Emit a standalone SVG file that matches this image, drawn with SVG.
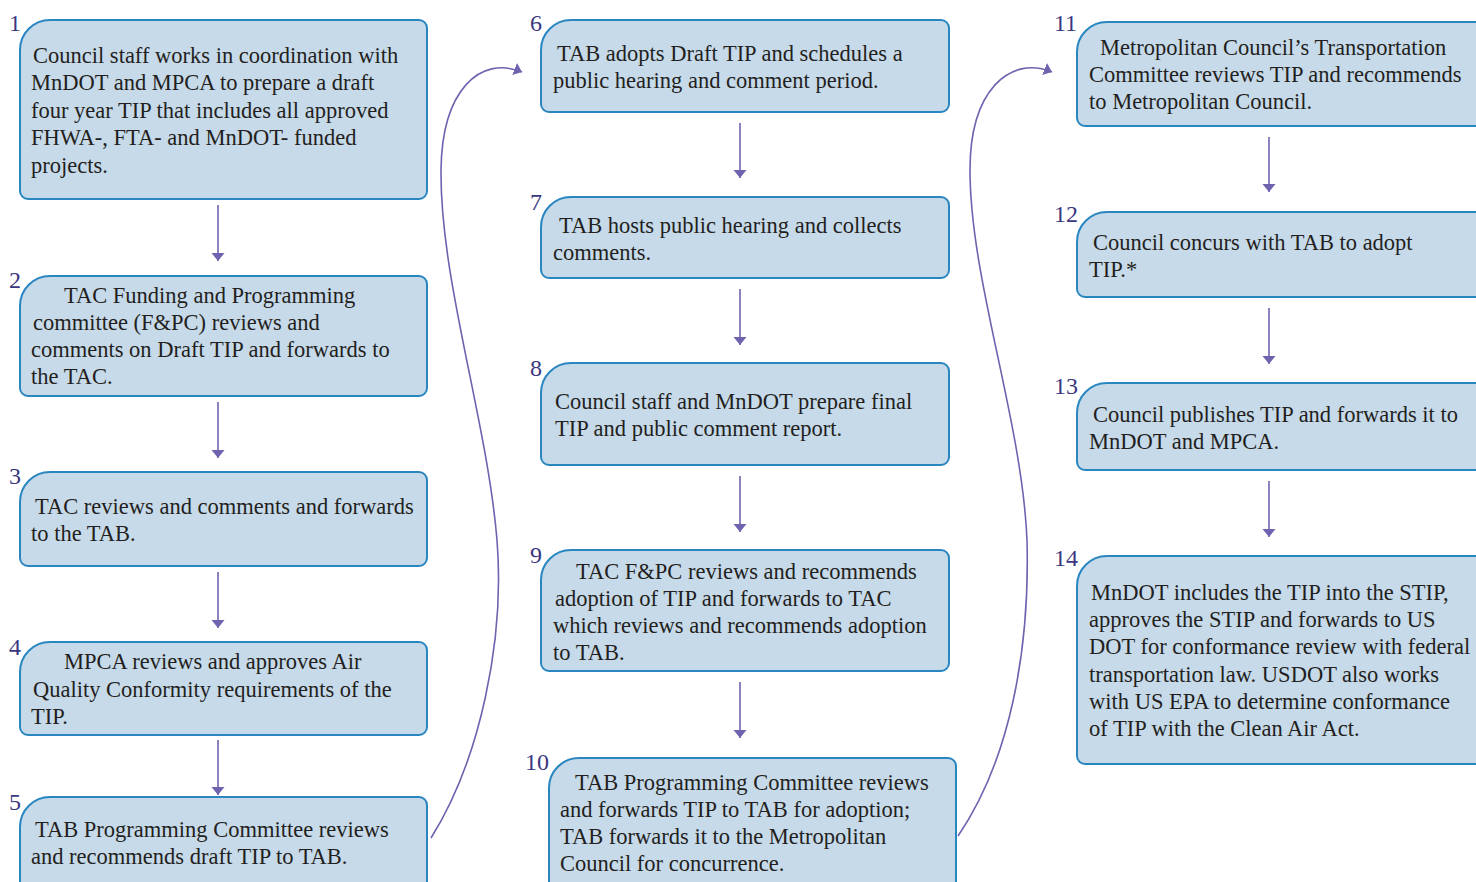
<svg xmlns="http://www.w3.org/2000/svg" width="1476" height="882" viewBox="0 0 1476 882">
<defs>
<style>
.box{fill:#c7daea;stroke:#2a86c0;stroke-width:2}
.t{font-family:"Liberation Serif",serif;font-size:22.5px;fill:#231f20}
.n{font-family:"Liberation Serif",serif;font-size:24px;fill:#3a3780}
.c{fill:none;stroke:#6f63b0;stroke-width:1.6}
</style>
<marker id="ah" markerUnits="userSpaceOnUse" markerWidth="10" markerHeight="14" refX="8" refY="6.5" orient="auto">
<path d="M0,0 L8,6.5 L0,13 Z" fill="#6f63b0"/>
</marker>
</defs>
<rect width="1476" height="882" fill="#ffffff"/>
<g id="connectors">
<line class="c" x1="218" y1="205" x2="218" y2="261" marker-end="url(#ah)"/>
<line class="c" x1="218" y1="402" x2="218" y2="458" marker-end="url(#ah)"/>
<line class="c" x1="218" y1="572" x2="218" y2="628" marker-end="url(#ah)"/>
<line class="c" x1="218" y1="740" x2="218" y2="795" marker-end="url(#ah)"/>
<line class="c" x1="740" y1="123" x2="740" y2="178" marker-end="url(#ah)"/>
<line class="c" x1="740" y1="289" x2="740" y2="345" marker-end="url(#ah)"/>
<line class="c" x1="740" y1="476" x2="740" y2="532" marker-end="url(#ah)"/>
<line class="c" x1="740" y1="682" x2="740" y2="738" marker-end="url(#ah)"/>
<line class="c" x1="1269" y1="137" x2="1269" y2="192" marker-end="url(#ah)"/>
<line class="c" x1="1269" y1="308" x2="1269" y2="364" marker-end="url(#ah)"/>
<line class="c" x1="1269" y1="481" x2="1269" y2="537" marker-end="url(#ah)"/>
<path class="c" d="M431,838 C480,760 505,640 497,540 C487,420 440,280 441,170 C442,90 480,55 522,72" marker-end="url(#ah)"/>
<path class="c" d="M958,836 C1010,760 1030,650 1027,540 C1022,420 970,280 970,170 C970,90 1010,55 1052,72" marker-end="url(#ah)"/>
</g>
<g id="node1">
<path class="box" d="M20,50 A30,30 0 0 1 50,20 H419 A8,8 0 0 1 427,28 V191 A8,8 0 0 1 419,199 H28 A8,8 0 0 1 20,191 Z"/>
<text class="n" x="9" y="31">1</text>
<text class="t" x="33" y="63">Council staff works in coordination with</text>
<text class="t" x="31" y="90">MnDOT and MPCA to prepare a draft</text>
<text class="t" x="31" y="118">four year TIP that includes all approved</text>
<text class="t" x="31" y="145">FHWA-, FTA- and MnDOT- funded</text>
<text class="t" x="31" y="173">projects.</text>
</g>
<g id="node2">
<path class="box" d="M20,306 A30,30 0 0 1 50,276 H419 A8,8 0 0 1 427,284 V388 A8,8 0 0 1 419,396 H28 A8,8 0 0 1 20,388 Z"/>
<text class="n" x="9" y="288">2</text>
<text class="t" x="64" y="303">TAC Funding and Programming</text>
<text class="t" x="33" y="330">committee (F&amp;PC) reviews and</text>
<text class="t" x="31" y="357">comments on Draft TIP and forwards to</text>
<text class="t" x="31" y="384">the TAC.</text>
</g>
<g id="node3">
<path class="box" d="M20,502 A30,30 0 0 1 50,472 H419 A8,8 0 0 1 427,480 V558 A8,8 0 0 1 419,566 H28 A8,8 0 0 1 20,558 Z"/>
<text class="n" x="9" y="484">3</text>
<text class="t" x="35" y="514">TAC reviews and comments and forwards</text>
<text class="t" x="31" y="541">to the TAB.</text>
</g>
<g id="node4">
<path class="box" d="M20,672 A30,30 0 0 1 50,642 H419 A8,8 0 0 1 427,650 V727 A8,8 0 0 1 419,735 H28 A8,8 0 0 1 20,727 Z"/>
<text class="n" x="9" y="655">4</text>
<text class="t" x="64" y="669">MPCA reviews and approves Air</text>
<text class="t" x="33" y="697">Quality Conformity requirements of the</text>
<text class="t" x="31" y="724">TIP.</text>
</g>
<g id="node5">
<path class="box" d="M20,827 A30,30 0 0 1 50,797 H419 A8,8 0 0 1 427,805 V887 A8,8 0 0 1 419,895 H28 A8,8 0 0 1 20,887 Z"/>
<text class="n" x="9" y="810">5</text>
<text class="t" x="35" y="837">TAB Programming Committee reviews</text>
<text class="t" x="31" y="864">and recommends draft TIP to TAB.</text>
</g>
<g id="node6">
<path class="box" d="M541,50 A30,30 0 0 1 571,20 H941 A8,8 0 0 1 949,28 V104 A8,8 0 0 1 941,112 H549 A8,8 0 0 1 541,104 Z"/>
<text class="n" x="530" y="31">6</text>
<text class="t" x="557" y="61">TAB adopts Draft TIP and schedules a</text>
<text class="t" x="553" y="88">public hearing and comment period.</text>
</g>
<g id="node7">
<path class="box" d="M541,227 A30,30 0 0 1 571,197 H941 A8,8 0 0 1 949,205 V270 A8,8 0 0 1 941,278 H549 A8,8 0 0 1 541,270 Z"/>
<text class="n" x="530" y="210">7</text>
<text class="t" x="559" y="233">TAB hosts public hearing and collects</text>
<text class="t" x="553" y="260">comments.</text>
</g>
<g id="node8">
<path class="box" d="M541,393 A30,30 0 0 1 571,363 H941 A8,8 0 0 1 949,371 V457 A8,8 0 0 1 941,465 H549 A8,8 0 0 1 541,457 Z"/>
<text class="n" x="530" y="376">8</text>
<text class="t" x="555" y="409">Council staff and MnDOT prepare final</text>
<text class="t" x="555" y="436">TIP and public comment report.</text>
</g>
<g id="node9">
<path class="box" d="M541,580 A30,30 0 0 1 571,550 H941 A8,8 0 0 1 949,558 V663 A8,8 0 0 1 941,671 H549 A8,8 0 0 1 541,663 Z"/>
<text class="n" x="530" y="563">9</text>
<text class="t" x="576" y="579">TAC F&amp;PC reviews and recommends</text>
<text class="t" x="555" y="606">adoption of TIP and forwards to TAC</text>
<text class="t" x="553" y="633">which reviews and recommends adoption</text>
<text class="t" x="553" y="660">to TAB.</text>
</g>
<g id="node10">
<path class="box" d="M549,788 A30,30 0 0 1 579,758 H948 A8,8 0 0 1 956,766 V887 A8,8 0 0 1 948,895 H557 A8,8 0 0 1 549,887 Z"/>
<text class="n" x="525" y="770">10</text>
<text class="t" x="575" y="790">TAB Programming Committee reviews</text>
<text class="t" x="560" y="817">and forwards TIP to TAB for adoption;</text>
<text class="t" x="560" y="844">TAB forwards it to the Metropolitan</text>
<text class="t" x="560" y="871">Council for concurrence.</text>
</g>
<g id="node11">
<path class="box" d="M1077,52 A30,30 0 0 1 1107,22 H1482 A8,8 0 0 1 1490,30 V118 A8,8 0 0 1 1482,126 H1085 A8,8 0 0 1 1077,118 Z"/>
<text class="n" x="1054" y="31">11</text>
<text class="t" x="1100" y="55">Metropolitan Council’s Transportation</text>
<text class="t" x="1089" y="82">Committee reviews TIP and recommends</text>
<text class="t" x="1089" y="109">to Metropolitan Council.</text>
</g>
<g id="node12">
<path class="box" d="M1077,242 A30,30 0 0 1 1107,212 H1482 A8,8 0 0 1 1490,220 V289 A8,8 0 0 1 1482,297 H1085 A8,8 0 0 1 1077,289 Z"/>
<text class="n" x="1054" y="222">12</text>
<text class="t" x="1093" y="250">Council concurs with TAB to adopt</text>
<text class="t" x="1089" y="277">TIP.*</text>
</g>
<g id="node13">
<path class="box" d="M1077,413 A30,30 0 0 1 1107,383 H1482 A8,8 0 0 1 1490,391 V462 A8,8 0 0 1 1482,470 H1085 A8,8 0 0 1 1077,462 Z"/>
<text class="n" x="1054" y="394">13</text>
<text class="t" x="1093" y="422">Council publishes TIP and forwards it to</text>
<text class="t" x="1089" y="449">MnDOT and MPCA.</text>
</g>
<g id="node14">
<path class="box" d="M1077,586 A30,30 0 0 1 1107,556 H1482 A8,8 0 0 1 1490,564 V756 A8,8 0 0 1 1482,764 H1085 A8,8 0 0 1 1077,756 Z"/>
<text class="n" x="1054" y="566">14</text>
<text class="t" x="1091" y="600">MnDOT includes the TIP into the STIP,</text>
<text class="t" x="1089" y="627">approves the STIP and forwards to US</text>
<text class="t" x="1089" y="654">DOT for conformance review with federal</text>
<text class="t" x="1089" y="682">transportation law. USDOT also works</text>
<text class="t" x="1089" y="709">with US EPA to determine conformance</text>
<text class="t" x="1089" y="736">of TIP with the Clean Air Act.</text>
</g>
</svg>
